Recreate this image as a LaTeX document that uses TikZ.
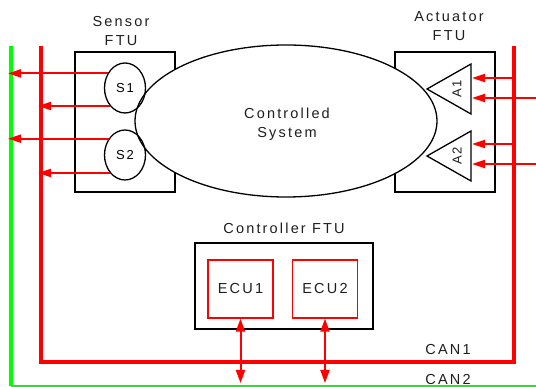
\documentclass[tikz,border=0pt]{standalone}
\usepackage{fontspec}
\setmainfont{Liberation Sans}
\newfontfamily\spacedfont[LetterSpace=15]{Liberation Sans}
\usetikzlibrary{arrows.meta, positioning, shapes.geometric, calc}
\definecolor{canred}{HTML}{FF0000}
\definecolor{cangreen}{HTML}{00FF00}
\definecolor{ink}{HTML}{1E1E1E}
\tikzset{
  every picture/.style={x=1pt, y=-1pt, font=\spacedfont\fontsize{14.5}{19}\selectfont},
  ftu/.style={draw, line width=1.3pt, inner sep=0pt},
  sensor/.style={ellipse, draw, line width=1.3pt, minimum width=41pt, minimum height=50pt, inner sep=0pt, font=\spacedfont\fontsize{13}{15}\selectfont},
  ecu/.style={draw=canred, line width=1.3pt, minimum width=65pt, minimum height=58pt, inner sep=0pt, text=ink},
  title/.style={align=center, inner sep=0pt, text=ink},
  bus/.style={line width=4pt},
  sig/.style={draw=canred, line width=2pt, -{Triangle[length=13pt, width=8pt, fill=canred]}},
}

\begin{document}
\begin{tikzpicture}
  \useasboundingbox (0,0) rectangle (536,387);
  % CAN2 (green) and CAN1 (red)
  \coordinate (can2) at (11,386);
  \coordinate (can1) at (41,362);
  \coordinate (rbus) at (514,46);
  \coordinate (edge) at (536,46);
  \draw[bus, cangreen] (11,46) -- (can2);
  \draw[cangreen, line width=1.5pt] (can2) -- (536,386);
  \draw[bus, canred] (41,46) -- (can1) -| (rbus);
  \node[title] (can1lbl) at (448,350) {CAN1};
  \node[title] (can2lbl) at (448,380) {CAN2};
  % FTUs
  \node[ftu, minimum width=100pt, minimum height=140pt] (sftu) at (125,122) {};
  \node[ftu, minimum width=100pt, minimum height=140pt] (aftu) at (445,122) {};
  \node[title, above=6pt of sftu, xshift=-4pt] (stitle) {Sensor\\FTU};
  \node[title, above=11pt of aftu, xshift=4pt] (atitle) {Actuator\\FTU};
  \node[ellipse, draw, line width=1.3pt, fill=white, minimum width=302pt, minimum height=152pt,
    inner sep=0pt, align=center, text=ink] (plant) at (286,121) {};
  \node[title] (plantlbl) at (287,124) {Controlled\\System};
  \node[sensor] (s1) at (125,88) {S1};
  \node[sensor] (s2) at (125,155) {S2};
  \foreach \k/\y/\u/\d in {1/89/78/98, 2/156/144/164} {
    \draw[line width=1.3pt, fill=white] (427,\y) -- ++(44,-25) -- ++(0,50) -- cycle;
    \node[rotate=90, inner sep=0pt, text=ink, font=\spacedfont\fontsize{13}{15}\selectfont] (a\k) at (457,\y) {A\k};
    \coordinate (a\k hi) at (471,\u);
    \coordinate (a\k lo) at (471,\d);
    \draw[sig, shorten >=1pt] (a\k hi -| rbus) -- (a\k hi);
    \draw[sig, shorten >=1pt] (a\k lo -| edge) -- (a\k lo);
  }
  % sensor outputs
  \draw[sig, shorten >=-3pt] (s1.140) -- (s1.140 -| can2);
  \draw[sig, shorten >=-3pt] (s1.230) -- (s1.230 -| can1);
  \draw[sig, shorten >=-3pt] (s2.135) -- (s2.135 -| can2);
  \draw[sig, shorten >=-3pt] (s2.230) -- (s2.230 -| can1);
  % controller
  \node[ftu, minimum width=178pt, minimum height=86pt] (cftu) at (284,286) {};
  \node[title, above=9pt of cftu] (ctitle) {Controller FTU};
  \node[ecu] (ecu1) at (240.5,289) {ECU1};
  \node[ecu] (ecu2) at (325,289) {ECU2};
  \foreach \e in {ecu1, ecu2}
    \draw[sig, {Triangle[length=13pt, width=9pt, fill=canred]}-{Triangle[length=13pt, width=9pt, fill=canred]}, shorten >=3pt]
      (\e.south) -- (\e.south |- can2);
\end{tikzpicture}
\end{document}
